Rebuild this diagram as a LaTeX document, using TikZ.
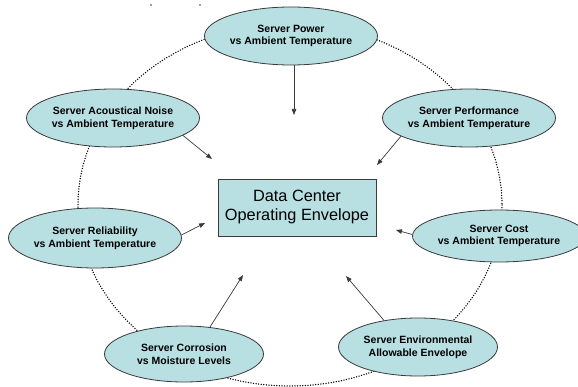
\documentclass[tikz,border=0pt]{standalone}
\usepackage{fontspec}
\setmainfont{Liberation Sans}
\usetikzlibrary{shapes.geometric,arrows.meta}
\definecolor{bubble}{HTML}{B8DFE2}
\definecolor{edge}{HTML}{3A3A3A}
\begin{document}
\begin{tikzpicture}[x=1pt,y=-1pt,
  topic/.style={ellipse, draw=edge, line width=0.8pt, fill=bubble, inner sep=0pt,
    minimum width=159pt, minimum height=58pt, align=center,
    font=\fontsize{10.5}{12.7}\selectfont\bfseries},
  core/.style={rectangle, draw=edge, line width=0.8pt, fill=bubble, inner sep=0pt,
    minimum width=158pt, minimum height=57pt, align=center,
    font=\fontsize{16.3}{19}\selectfont},
  link/.style={draw=edge, line width=0.7pt, -{Triangle[length=6pt,width=4.5pt]}},
  ring/.style={draw=black, line width=1.5pt, dash pattern=on 0pt off 2.6pt, line cap=round}]
\useasboundingbox (0,0) rectangle (578,387);

% dotted ring behind the topics
\draw[ring] (290,205) ellipse [x radius=212, y radius=181];

% two stray marks at the top
\fill[edge] (151,5) circle [radius=0.9];
\fill[edge] (200,5) circle [radius=0.9];

% topics around the ring
\node[topic] (pow)  at (291,36)  {Server Power\\vs Ambient Temperature};
\node[topic] (ac)   at (113,118) {Server Acoustical Noise\\vs Ambient Temperature};
\node[topic] (perf) at (469,118) {Server Performance\\vs Ambient Temperature};
\node[topic, minimum height=60pt] (rel) at (95,238) {Server Reliability\\vs Ambient Temperature};
\node[topic, minimum width=156pt, minimum height=52pt] (cost) at (499,236) {Server Cost\\vs Ambient Temperature};
\node[topic, minimum height=56pt] (cor) at (184,354) {Server Corrosion\\vs Moisture Levels};
\node[topic] (env)  at (418,347) {Server Environmental\\Allowable Envelope};

% central box
\node[core] (dc) at (297,207.5) {Data Center\\Operating Envelope};

% arrow ends short of the box
\coordinate (t1) at (294,115);
\coordinate (t2) at (212,159);
\coordinate (t3) at (377,165);
\coordinate (t4) at (205,223);
\coordinate (t5) at (396,230);
\coordinate (t6) at (243,275);
\coordinate (t7) at (346,276);

\draw[link] (pow.south -| t1) -- (t1);
\draw[link] (ac.-14)   -- (t2);
\draw[link] (perf.-165) -- (t3);
\draw[link] (rel.2)    -- (t4);
\draw[link] (cost.179) -- (t5);
\draw[link] (cor.46)   -- (t6);
\draw[link] (env.142)  -- (t7);
\end{tikzpicture}
\end{document}
